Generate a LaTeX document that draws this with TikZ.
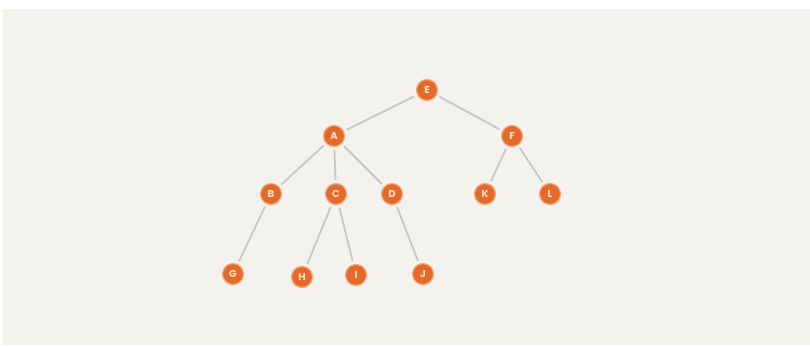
\documentclass[tikz,border=0pt]{standalone}
\usepackage{fontspec}
\setmainfont{Poppins}
\definecolor{bgc}{HTML}{F4F2EF}
\definecolor{nodefill}{HTML}{E5692A}
\definecolor{halo}{HTML}{F3A978}
\definecolor{txtc}{HTML}{FBE3C6}
\definecolor{edgec}{HTML}{C9C7C4}
\begin{document}
\begin{tikzpicture}[x=1pt,y=-1pt,
  vtx/.style={circle,fill=nodefill,draw=halo,line width=1.2pt,minimum size=21pt,inner sep=0pt,
    text=txtc,font=\fontsize{10}{10}\selectfont\bfseries},
  edge/.style={draw=edgec,line width=1.8pt,shorten <=3pt,shorten >=3pt}]
\fill[white] (0,0) rectangle (810,347);
\fill[bgc] (3,9) rectangle (810,345);
\useasboundingbox (0,0) rectangle (810,347);
\node[vtx] (E) at (427,90) {E};
\node[vtx] (A) at (334,136) {A};
\node[vtx] (F) at (512,136) {F};
\node[vtx] (B) at (271,194) {B};
\node[vtx] (C) at (336,194) {C};
\node[vtx] (D) at (392,194) {D};
\node[vtx] (K) at (485,194) {K};
\node[vtx] (L) at (550,194) {L};
\node[vtx] (G) at (233,274) {G};
\node[vtx] (H) at (302,277) {H};
\node[vtx] (I) at (356,275) {I};
\node[vtx] (J) at (423,274) {J};
\path[edge] (E) -- (A);
\path[edge] (E) -- (F);
\path[edge] (A) -- (B);
\path[edge] (A) -- (C);
\path[edge] (A) -- (D);
\path[edge] (F) -- (K);
\path[edge] (F) -- (L);
\path[edge] (B) -- (G);
\path[edge] (C) -- (H);
\path[edge] (C) -- (I);
\path[edge] (D) -- (J);
\end{tikzpicture}
\end{document}
